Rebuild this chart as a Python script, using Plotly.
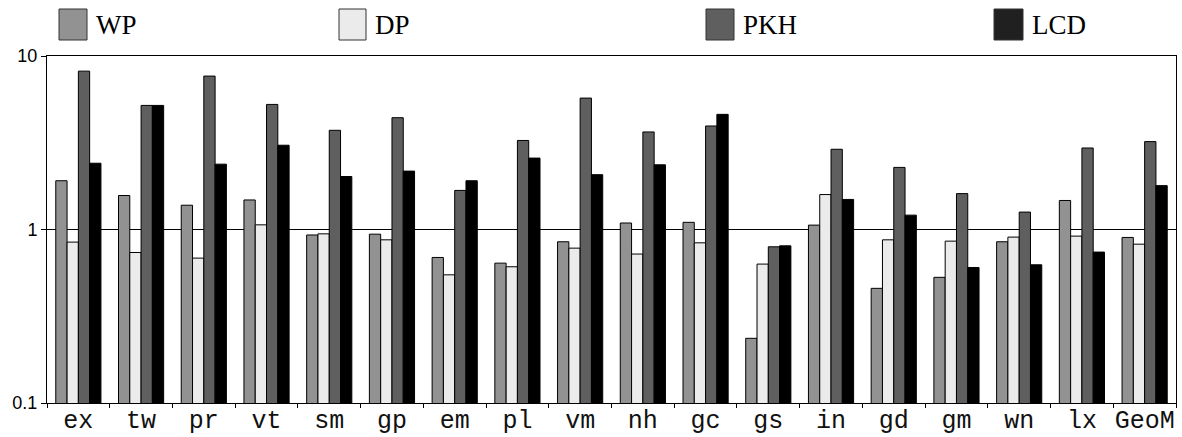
import plotly.graph_objects as go

categories = ["ex", "tw", "pr", "vt", "sm", "gp", "em", "pl", "vm", "nh",
              "gc", "gs", "in", "gd", "gm", "wn", "lx", "GeoM"]
wp = [1.91, 1.57, 1.38, 1.48, 0.93, 0.94, 0.69, 0.64, 0.85, 1.09,
      1.10, 0.236, 1.06, 0.458, 0.53, 0.85, 1.47, 0.90]
dp = [0.846, 0.737, 0.684, 1.064, 0.944, 0.872, 0.548, 0.61, 0.781, 0.722,
      0.838, 0.632, 1.59, 0.872, 0.857, 0.904, 0.916, 0.823]
pkh = [8.18, 5.19, 7.66, 5.26, 3.73, 4.41, 1.68, 3.26, 5.72, 3.65,
       3.95, 0.795, 2.90, 2.28, 1.61, 1.26, 2.95, 3.21]
lcd = [2.41, 5.19, 2.38, 3.06, 2.02, 2.17, 1.91, 2.58, 2.07, 2.36,
       4.61, 0.805, 1.49, 1.21, 0.604, 0.626, 0.741, 1.79]
series_names = ["WP", "DP", "PKH", "LCD"]
series_values = [wp, dp, pkh, lcd]
colors = ["#929292", "#ebebeb", "#5f5f5f", "#000000"]
legend_colors = ["#929292", "#ebebeb", "#5f5f5f", "#202020"]
y_ticks = [0.1, 1, 10]
y_tick_labels = ["0.1", "1", "10"]

W, H = 1182, 437
L, R, T, B = 47, 6, 56, 34
pw, ph = W - L - R, H - T - B


def px2x(px):
    return (px - L) / pw


def px2y(py):
    return (H - B - py) / ph


fig = go.Figure()
for name, vals, col in zip(series_names, series_values, colors):
    fig.add_trace(go.Bar(x=categories, y=vals, name=name,
                         marker=dict(color=col, line=dict(color="black", width=1)),
                         showlegend=False))

# manual legend (box + label)
legend_boxes = [(59, 87), (339, 366), (706, 734), (994, 1023)]
for (x0, x1), name, col in zip(legend_boxes, series_names, legend_colors):
    fig.add_shape(type="rect", xref="paper", yref="paper",
                  x0=px2x(x0), x1=px2x(x1), y0=px2y(40), y1=px2y(9),
                  fillcolor=col, line=dict(color="#333333", width=1))
    fig.add_annotation(xref="paper", yref="paper", x=px2x(x1 + 7), y=px2y(25),
                       text=name, showarrow=False, xanchor="left", yanchor="middle",
                       font=dict(family="Liberation Serif", size=27, color="black"))

fig.update_layout(
    width=W, height=H,
    margin=dict(l=L, r=R, t=T, b=B, pad=0),
    paper_bgcolor="white", plot_bgcolor="white",
    barmode="group", bargap=0.28, bargroupgap=0,
    xaxis=dict(showline=True, linecolor="black", linewidth=1, mirror=True,
               ticks="outside", tickson="boundaries", ticklen=4, tickcolor="black",
               showgrid=False, tickangle=0, automargin=False, ticklabelstandoff=-6,
               tickfont=dict(family="Liberation Mono", size=25, color="#111111")),
    yaxis=dict(type="log", range=[-1, 1], showline=True, linecolor="black",
               linewidth=1, mirror=True, tickvals=y_ticks, ticktext=y_tick_labels,
               ticks="outside", ticklen=5, tickcolor="black", automargin=False,
               showgrid=True, gridcolor="black", gridwidth=1,
               tickfont=dict(family="Liberation Sans", size=18, color="black")),
)

fig.write_html("out.html", config={"displayModeBar": False},
               post_script="document.body.style.margin='0';document.body.style.overflow='hidden';")
